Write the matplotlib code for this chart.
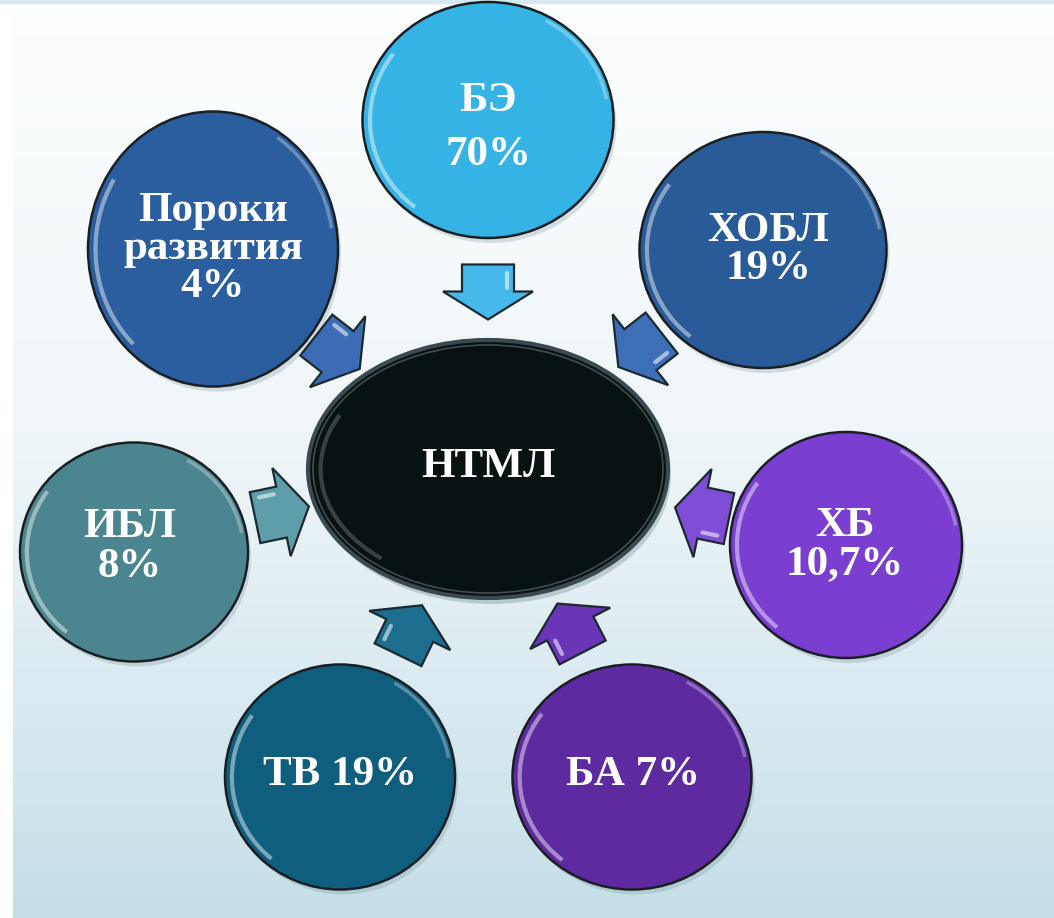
import numpy as np
import matplotlib
matplotlib.use("Agg")
import matplotlib.pyplot as plt
from matplotlib.patches import Ellipse, Polygon, Arc
from matplotlib.colors import LinearSegmentedColormap

# ---- data ----
labels = ["БЭ\n70%", "ХОБЛ\n19%", "ХБ\n10,7%", "БА 7%", "ТВ 19%", "ИБЛ\n8%", "Пороки\nразвития\n4%"]
centre_label = "НТМЛ"
circle_colors = ["#34b3e4", "#285b97", "#7a3fd0", "#5e2aa0", "#0f5e7e", "#4a8590", "#2a5e9e"]
arrow_colors = ["#46b9ea", "#3d6fb8", "#7e4fd6", "#6b35b8", "#1d6d8e", "#5d9eaa", "#3c6db4"]

# layout (pixel coordinates, y down)
circ_xy = [(488, 120), (763, 250), (846, 545), (632, 777), (340, 777), (134, 552), (213, 249)]
circ_wh = [(251, 236), (247, 236), (232, 226), (239, 225), (230, 225), (228, 219), (250, 275)]
text_xy = [(488, 128), (768, 250), (845, 545), (633, 775), (340, 775), (130, 547), (213, 249)]
line_sp = [1.58, 0.99, 1.03, 1.0, 1.0, 1.1, 0.99]
arrow_xy = [(488, 292), (640, 350), (702, 513), (570, 628), (410, 630), (282, 512), (338, 352)]
centre_xy = (488, 469)
centre_wh = (360, 258)

W, H = 1054, 918
fig = plt.figure(figsize=(W / 100, H / 100), dpi=100)
ax = fig.add_axes([0, 0, 1, 1])
ax.set_xlim(0, W)
ax.set_ylim(H, 0)
ax.axis("off")

# background gradient
grad = np.linspace(0, 1, 256).reshape(-1, 1)
cmap = LinearSegmentedColormap.from_list("bg", ["#fdfefe", "#eef5f8", "#c5dfe7"])
ax.imshow(grad, extent=(13, W, H, 3), aspect="auto", cmap=cmap, zorder=0)
ax.add_patch(plt.Rectangle((0, 0), W, 3, color="#d9e9f1", zorder=0.5))

fs = 31
font = dict(family=["Liberation Serif", "DejaVu Serif"], weight="bold", color="white")

# arrows
def arrow(cx, cy, ang, color, L=55, hl=28, hw=45, sw=26):
    pts = np.array([(-L / 2, -sw), (L / 2 - hl, -sw), (L / 2 - hl, -hw), (L / 2, 0),
                    (L / 2 - hl, hw), (L / 2 - hl, sw), (-L / 2, sw)])
    c, s = np.cos(ang), np.sin(ang)
    R = np.array([[c, -s], [s, c]])
    pts = pts @ R.T + np.array([cx, cy])
    ax.add_patch(Polygon(pts, closed=True, facecolor=color, edgecolor="#1c2a30", lw=1.6, zorder=3))
    # gloss line
    p1 = np.array([-L / 2 + 8, -sw + 7]) @ R.T + [cx, cy]
    p2 = np.array([L / 2 - hl - 4, -sw + 7]) @ R.T + [cx, cy]
    ax.plot([p1[0], p2[0]], [p1[1], p2[1]], color="white", alpha=0.55, lw=3, solid_capstyle="round", zorder=3.5)

for (ax_, ay_), col in zip(arrow_xy, arrow_colors):
    ang = np.arctan2(centre_xy[1] - ay_, centre_xy[0] - ax_)
    arrow(ax_, ay_, ang, col)

# circles
for (cx, cy), (w, h), col, lab, (tx, ty), ls in zip(circ_xy, circ_wh, circle_colors, labels, text_xy, line_sp):
    ax.add_patch(Ellipse((cx + 3, cy + 5), w, h, facecolor="#6f8a94", alpha=0.25, lw=0, zorder=1))
    ax.add_patch(Ellipse((cx, cy), w, h, facecolor=col, edgecolor="#1a1f24", lw=1.8, zorder=2))
    ax.add_patch(Arc((cx, cy), w * 0.94, h * 0.94, theta1=130, theta2=215,
                     color="white", alpha=0.45, lw=3, zorder=2.5))
    ax.add_patch(Arc((cx, cy), w * 0.96, h * 0.96, theta1=300, theta2=350,
                     color="white", alpha=0.3, lw=2.5, zorder=2.5))
    ax.text(tx, ty, lab, ha="center", va="center", fontsize=fs, linespacing=ls, zorder=4, **font)

# centre ellipse
ax.add_patch(Ellipse((centre_xy[0] + 3, centre_xy[1] + 6), *centre_wh, facecolor="#5e7880", alpha=0.3, lw=0, zorder=1))
ax.add_patch(Ellipse(centre_xy, *centre_wh, facecolor="#081212", edgecolor="#3a4a4e", lw=3, zorder=2))
ax.add_patch(Ellipse(centre_xy, centre_wh[0] - 10, centre_wh[1] - 10, facecolor="none", edgecolor="#5a6668", lw=1.2, alpha=0.7, zorder=2.2))
ax.add_patch(Arc(centre_xy, centre_wh[0] * 0.93, centre_wh[1] * 0.9, theta1=140, theta2=200,
                 color="white", alpha=0.2, lw=3, zorder=2.5))
ax.text(centre_xy[0], centre_xy[1] - 2, centre_label, ha="center", va="center", fontsize=fs, zorder=4, **font)

fig.savefig("out.png", dpi=100)
